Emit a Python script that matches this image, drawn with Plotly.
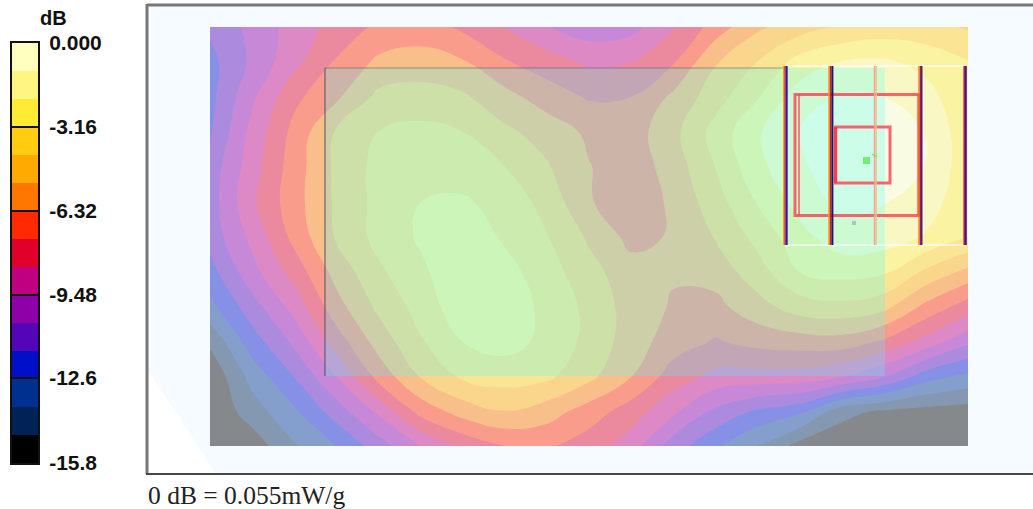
import plotly.graph_objects as go

W, H = 1033, 509

# ---- data: field levels below the 0 dB peak, in units of one colour band (15.8 dB / 15) ----
x_grid = [210, 252, 294, 336, 378, 421, 463, 505, 547, 589, 631, 673, 715, 757, 800, 842, 884, 926, 968]
y_grid = [27, 62, 97, 132, 167, 202, 237, 272, 307, 342, 377, 412, 446]
row_027 = [10.8, 9.7, 8.6, 7.6, 6.8, 6.5, 7.2, 8.05, 8.95, 9.55, 9.35, 8.1, 6.55, 5.2, 4.45, 3.9, 3.6, 3.7, 4.1]
row_062 = [11.3, 9.8, 8.3, 6.9, 5.8, 5.6, 5.9, 6.9, 7.5, 8.2, 8.0, 7.1, 5.1, 4.0, 2.6, 1.95, 1.85, 2.3, 2.95]
row_097 = [11.3, 9.2, 7.25, 6.2, 4.75, 4.55, 4.85, 5.65, 6.5, 7.1, 7.0, 5.8, 4.45, 3.1, 1.5, 0.9, 1.0, 1.65, 2.75]
row_132 = [11.1, 8.7, 6.7, 4.9, 4.0, 3.75, 4.0, 4.8, 5.4, 6.2, 6.5, 5.3, 3.65, 2.15, 0.95, 0.55, 0.5, 1.05, 2.7]
row_167 = [10.6, 8.45, 6.5, 4.8, 3.7, 3.35, 3.55, 4.0, 4.9, 5.95, 6.6, 5.55, 4.0, 2.3, 1.15, 0.45, 0.25, 1.05, 2.65]
row_202 = [10.5, 8.2, 6.4, 4.85, 3.7, 3.0, 2.85, 3.4, 4.35, 5.9, 6.7, 5.8, 4.45, 2.95, 1.6, 0.7, 0.95, 1.5, 2.75]
row_237 = [10.6, 8.75, 6.7, 4.9, 3.7, 2.85, 2.3, 3.15, 3.95, 5.15, 6.3, 5.9, 4.95, 3.7, 2.35, 1.4, 1.5, 2.1, 3.0]
row_272 = [11.4, 9.35, 7.6, 5.65, 4.2, 3.2, 2.2, 2.65, 3.55, 4.65, 5.6, 5.9, 5.6, 4.45, 3.0, 2.65, 2.85, 4.2, 5.3]
row_307 = [12.3, 10.45, 8.65, 6.4, 4.8, 3.6, 2.35, 2.35, 3.3, 4.25, 5.45, 6.1, 6.3, 5.4, 4.5, 4.3, 4.7, 6.3, 7.5]
row_342 = [13.8, 11.5, 9.8, 7.55, 5.6, 4.1, 3.0, 2.65, 3.25, 4.3, 5.5, 6.5, 7.1, 6.7, 6.5, 6.45, 7.2, 8.4, 9.8]
row_377 = [14.8, 12.65, 11.0, 9.05, 6.7, 4.95, 3.85, 3.55, 3.8, 4.75, 6.0, 7.5, 8.3, 8.4, 8.5, 9.0, 10.0, 11.6, 12.3]
row_412 = [14.9, 13.5, 12.2, 10.55, 8.85, 6.65, 5.6, 5.05, 5.55, 6.5, 7.5, 8.8, 10.25, 11.2, 11.8, 13.7, 14.2, 14.4, 14.5]
row_446 = [14.95, 14.6, 13.1, 12.0, 10.5, 9.0, 7.75, 7.0, 6.85, 7.5, 8.5, 10.5, 11.8, 13.0, 14.4, 14.7, 14.7, 14.8, 14.8]
levels = [row_027, row_062, row_097, row_132, row_167, row_202, row_237, row_272,
          row_307, row_342, row_377, row_412, row_446]

band_colors = ["#000000", "#002255", "#00308F", "#0010C8", "#5505B8", "#9000A8", "#C00080", "#E0002A",
               "#FF2A00", "#FF7700", "#FFAA00", "#FFCC11", "#FFEB33", "#FFF580", "#FFFFC0"]
band_edges = [-15.8, -14.75, -13.69, -12.64, -11.59, -10.53, -9.48, -8.43, -7.37, -6.32, -5.27, -4.21, -3.16, -2.11, -1.05, 0.0]
tick_values = [0.0, -3.16, -6.32, -9.48, -12.6, -15.8]
tick_labels = ["0.000", "-3.16", "-6.32", "-9.48", "-12.6", "-15.8"]
footer = "0 dB = 0.055mW/g"

# ---- probe-outline geometry as seen in the picture ----
bars = [
    (783.8, "#FF9A00", 1.4), (785.0, "#E01030", 1.2), (786.6, "#3818A8", 2.2),
    (829.0, "#F8A010", 1.6), (830.6, "#D81828", 1.6), (832.4, "#181878", 2.0),
    (874.6, "#F4A0A0", 1.6), (876.2, "#F8C080", 1.4),
    (919.0, "#F08010", 1.4), (920.4, "#D01830", 1.2), (921.6, "#4020A0", 1.8),
    (964.2, "#D81830", 1.6), (965.8, "#3018B0", 2.0),
]
bar_span = (66, 245)
scan_x = (325, 885)
scan_y = (68, 376)
red_rects = [(795, 94.5, 920, 215.5, 3.0), (835.5, 127, 890, 183, 3.0)]
red_lines = [(799, 94.5, 799, 215.5, 2.0), (918, 94.5, 918, 215.5, 2.0)]

step = 15.8 / 15
z_db = [[-v * step for v in row] for row in levels]
n = len(band_colors)
# heatmap (colour bar) uses equal steps over its range
bar_scale = []
for i, c in enumerate(band_colors):
    bar_scale += [[i / n, c], [(i + 1) / n, c]]
# contour fills take the colour at each band's midpoint over nc = n + 1 steps
fill_scale = [[0, band_colors[0]]]
for i, c in enumerate(band_colors):
    fill_scale.append([(i + 1) / (n + 1), c])
fill_scale.append([1, band_colors[-1]])

def px(x):
    return x / W

def py(y):
    return 1 - y / H

fig = go.Figure()
fig.add_trace(go.Contour(
    x=x_grid, y=y_grid, z=z_db, xaxis="x", yaxis="y",
    colorscale=fill_scale, showscale=False, opacity=0.45,
    autocontour=False, contours=dict(start=-15.8, end=0.01, size=step, coloring="fill", showlines=False),
    line=dict(width=0, smoothing=1.3), hoverinfo="skip",
))
fig.add_trace(go.Heatmap(
    x=[0, 1], y=band_edges, z=[[(band_edges[i] + band_edges[i + 1]) / 2] for i in range(n)],
    xaxis="x2", yaxis="y2", colorscale=bar_scale, zmin=-15.8, zmax=0, showscale=False, hoverinfo="skip",
))

shapes = []
# frame fill and white corner
shapes.append(dict(type="rect", x0=147, x1=1040, y0=4, y1=474, fillcolor="#F5FBFF", line_width=0, layer="below"))
shapes.append(dict(type="path", path="M 147 368 L 147 474 L 216 474 Z", fillcolor="white", line_width=0, layer="below"))
# scan overlay
shapes.append(dict(type="rect", x0=scan_x[0], x1=scan_x[1], y0=scan_y[0], y1=scan_y[1],
                   fillcolor="rgba(70,255,255,0.25)", line_width=0))
shapes.append(dict(type="line", x0=scan_x[0], x1=scan_x[0], y0=scan_y[0], y1=scan_y[1],
                   line=dict(color="rgba(70,70,80,0.6)", width=1.5)))
shapes.append(dict(type="line", x0=scan_x[0], x1=785, y0=scan_y[0], y1=scan_y[0],
                   line=dict(color="rgba(80,80,80,0.35)", width=1.5)))
# white probe edges
for yy in bar_span:
    shapes.append(dict(type="line", x0=785, x1=966, y0=yy, y1=yy, line=dict(color="rgba(255,255,255,0.8)", width=1.5)))
# red outlines
for x0, y0, x1, y1, w in red_rects:
    shapes.append(dict(type="rect", x0=x0, x1=x1, y0=y0, y1=y1, line=dict(color="rgba(255,50,70,0.75)", width=w)))
for x0, y0, x1, y1, w in red_lines:
    shapes.append(dict(type="line", x0=x0, x1=x1, y0=y0, y1=y1, line=dict(color="rgba(255,60,80,0.65)", width=w)))
# thicker inner-left edge and right edge
shapes.append(dict(type="line", x0=835.5, x1=835.5, y0=127, y1=183, line=dict(color="rgba(255,50,70,0.8)", width=3.5)))
shapes.append(dict(type="line", x0=920, x1=920, y0=94.5, y1=215.5, line=dict(color="rgba(255,70,60,0.9)", width=4)))
# coloured vertical bars
for xb, col, w in bars:
    shapes.append(dict(type="line", x0=xb, x1=xb, y0=bar_span[0], y1=bar_span[1], line=dict(color=col, width=w)))
# green marker, tick, grey dot
shapes.append(dict(type="rect", x0=863, x1=870, y0=157, y1=164, fillcolor="#70F070", line_width=0))
shapes.append(dict(type="line", x0=872, x1=877, y0=154, y1=157, line=dict(color="#60F060", width=1.4)))
shapes.append(dict(type="rect", x0=852, x1=856, y0=221, y1=225, fillcolor="#B0C4C8", line_width=0))
# frame
shapes.append(dict(type="line", x0=147, x1=1040, y0=5, y1=5, line=dict(color="#777777", width=3)))
shapes.append(dict(type="line", x0=147, x1=147, y0=4, y1=474, line=dict(color="#777777", width=3)))
shapes.append(dict(type="line", x0=146, x1=1040, y0=474, y1=474, line=dict(color="#484848", width=2)))

fig.update_layout(
    width=W, height=H, margin=dict(l=0, r=0, t=0, b=0), autosize=False, template="none",
    paper_bgcolor="white", plot_bgcolor="white", showlegend=False, shapes=shapes,
    xaxis=dict(domain=[px(143), 1], range=[143, 1033], visible=False, fixedrange=True, automargin=False),
    yaxis=dict(domain=[py(478), py(0)], range=[478, 0], visible=False, fixedrange=True, automargin=False),
    xaxis2=dict(domain=[px(12), px(38)], range=[0, 1], anchor="y2", showticklabels=False, ticks="", automargin=False,
                showgrid=False, zeroline=False, showline=True, mirror=True, linecolor="#111111", linewidth=2),
    yaxis2=dict(domain=[py(463), py(43)], range=[-15.8, 0], anchor="x2", side="right", showgrid=False, zeroline=False,
                showline=True, mirror=True, linecolor="#111111", linewidth=2, automargin=False,
                tickmode="array", tickvals=tick_values, ticktext=tick_labels,
                ticks="inside", ticklen=26, tickwidth=1.5, tickcolor="#111111", ticklabelstandoff=5,
                tickfont=dict(family="Liberation Sans", size=21, color="#111111", weight="bold")),
    annotations=[
        dict(text="<b>dB</b>", xref="paper", yref="paper", x=px(53), y=py(18), showarrow=False,
             xanchor="center", yanchor="middle", font=dict(family="Liberation Sans", size=20, color="#111111")),
        dict(text=footer, xref="paper", yref="paper", x=px(146), y=py(495), showarrow=False,
             xanchor="left", yanchor="middle", font=dict(family="Liberation Serif", size=25.5, color="#222222")),
    ],
)
fig.write_html("out.html", config=dict(displayModeBar=False),
               post_script="document.body.style.margin='0';")
